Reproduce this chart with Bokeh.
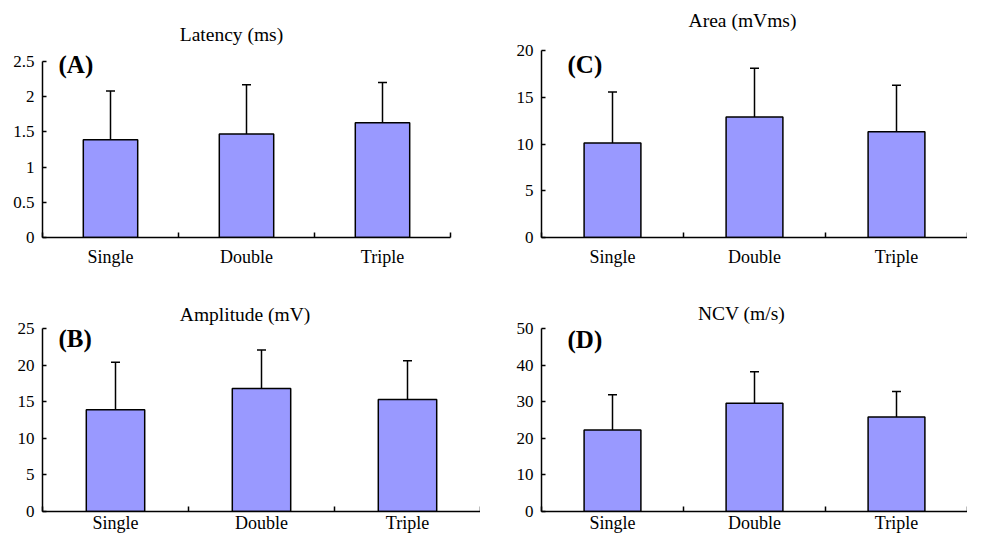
import numpy as np
from bokeh.plotting import figure
from bokeh.layouts import column, row
from bokeh.models import Range1d, FixedTicker, Whisker, TeeHead, ColumnDataSource, Label
from bokeh.embed import file_html
from bokeh.resources import INLINE

# ---- data ----
categories = ["Single", "Double", "Triple"]

latency_mean = [1.39, 1.47, 1.63]
latency_sd = [0.69, 0.70, 0.57]
latency_ticks = [0, 0.5, 1, 1.5, 2, 2.5]
latency_tick_labels = ["0", "0.5", "1", "1.5", "2", "2.5"]

amplitude_mean = [13.9, 16.8, 15.3]
amplitude_sd = [6.5, 5.25, 5.3]
amplitude_ticks = [0, 5, 10, 15, 20, 25]
amplitude_tick_labels = ["0", "5", "10", "15", "20", "25"]

area_mean = [10.1, 12.9, 11.3]
area_sd = [5.46, 5.2, 4.98]
area_ticks = [0, 5, 10, 15, 20]
area_tick_labels = ["0", "5", "10", "15", "20"]

ncv_mean = [22.3, 29.6, 25.8]
ncv_sd = [9.6, 8.6, 7.0]
ncv_ticks = [0, 10, 20, 30, 40, 50]
ncv_tick_labels = ["0", "10", "20", "30", "40", "50"]

FONT = "Liberation Serif"
BAR_COLOR = "#9999FF"


def panel(title, letter, means, sds, ticks, tick_labels, geom):
    (bl, fw, axis_w, bt, fh, pad_top, bb, tx, ty, lx, ly, xl_standoff) = geom
    n = len(categories)
    ymax = ticks[-1]
    x_end = n * fw / axis_w
    y_end = ymax * fh / (fh - pad_top)
    p = figure(frame_width=fw, frame_height=fh, min_border_left=bl, min_border_right=0,
               min_border_top=bt, min_border_bottom=bb, toolbar_location=None,
               output_backend="svg", x_range=Range1d(0, x_end),
               y_range=Range1d(0, y_end))
    p.outline_line_color = None
    p.xgrid.visible = False
    p.ygrid.visible = False
    p.background_fill_color = "white"
    p.border_fill_color = "white"

    centers = list(np.arange(n) + 0.5)
    bounds = list(np.arange(n + 1).astype(float))
    tops = [m + s for m, s in zip(means, sds)]
    src = ColumnDataSource(dict(x=centers, mean=means, top=tops))

    p.vbar(x="x", top="mean", bottom=0, width=0.4, source=src,
           fill_color=BAR_COLOR, line_color="black", line_width=1.5)
    w = Whisker(base="x", lower="mean", upper="top", source=src, dimension="height",
                line_color="black", line_width=1.5,
                upper_head=TeeHead(size=9, line_color="black", line_width=1.5),
                lower_head=None, level="overlay")
    p.add_layout(w)

    # x axis
    xa = p.xaxis[0]
    xa.bounds = (0, n)
    xa.ticker = FixedTicker(ticks=centers, minor_ticks=bounds)
    xa.major_label_overrides = {c: lab for c, lab in zip(centers, categories)}
    xa.major_tick_in = 0
    xa.major_tick_out = 0
    xa.minor_tick_in = 5
    xa.minor_tick_out = 0
    xa.minor_tick_line_width = 1.5
    xa.minor_tick_line_color = "black"
    xa.axis_line_width = 1.5
    xa.axis_line_color = "black"
    xa.major_label_text_font = FONT
    xa.major_label_text_font_size = "18px"
    xa.major_label_text_color = "black"
    xa.major_label_standoff = xl_standoff

    # y axis (line limited to the value range; the frame extends above it)
    ya = p.yaxis[0]
    ya.bounds = (0, ymax)
    ya.ticker = FixedTicker(ticks=ticks, minor_ticks=[])
    ya.major_label_overrides = {t: lab for t, lab in zip(ticks, tick_labels)}
    ya.major_tick_in = 4
    ya.major_tick_out = 0
    ya.major_tick_line_width = 1.5
    ya.major_tick_line_color = "black"
    ya.minor_tick_in = 0
    ya.minor_tick_out = 0
    ya.axis_line_width = 1.5
    ya.axis_line_color = "black"
    ya.major_label_text_font = FONT
    ya.major_label_text_font_size = "17px"
    ya.major_label_text_color = "black"
    ya.major_label_standoff = 8

    # chart title (placed relative to the top of the y axis)
    tl = Label(x=0, y=ymax, x_offset=tx, y_offset=ty, text=title,
               text_font=FONT, text_font_size="19.5px", text_font_style="normal",
               text_color="black", text_baseline="middle", text_align="center")
    p.add_layout(tl)

    lab = Label(x=0, y=ymax, x_offset=lx, y_offset=-ly, text=letter,
                text_font=FONT, text_font_size="25px", text_font_style="bold",
                text_color="black", text_baseline="middle", text_align="left")
    p.add_layout(lab)
    return p


# geom: left border, frame width, axis width, top border, frame height, pad above ymax,
#       bottom border, title x offset, title y offset, letter x offset, letter y offset, x label standoff
pA = panel("Latency (ms)", "(A)", latency_mean, latency_sd, latency_ticks, latency_tick_labels,
           (42, 438, 408, 5, 232, 56, 43, 189, 27, 16, 3, 9))
pC = panel("Area (mVms)", "(C)", area_mean, area_sd, area_ticks, area_tick_labels,
           (61, 426, 426, 5, 232, 45, 43, 201, 30.5, 26, 13.5, 9))
pB = panel("Amplitude  (mV)", "(B)", amplitude_mean, amplitude_sd, amplitude_ticks, amplitude_tick_labels,
           (42, 438, 438, 5, 226, 43, 23, 205, 14, 16, 9.5, 1))
pD = panel("NCV (m/s)", "(D)", ncv_mean, ncv_sd, ncv_ticks, ncv_tick_labels,
           (61, 426, 426, 5, 226, 43, 23, 200, 15, 26, 10.5, 1))

layout = column(row(pA, pC), row(pB, pD))
open("out.html", "w").write(file_html(layout, INLINE))
